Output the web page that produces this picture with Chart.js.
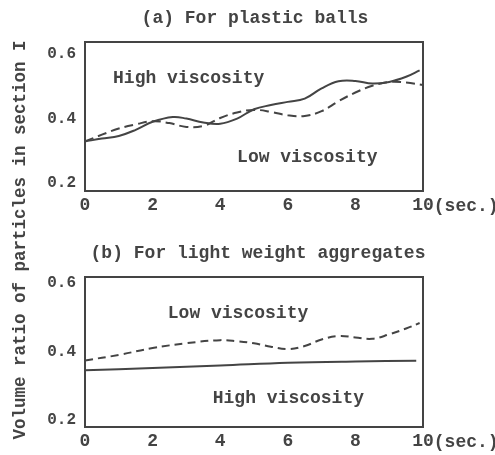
<!DOCTYPE html>
<html>
<head>
<meta charset="utf-8">
<script src="https://cdn.jsdelivr.net/npm/chart.js@4.4.0/dist/chart.umd.min.js"></script>
<style>
  body { margin: 0; background: #fff; width: 495px; height: 455px; position: relative; overflow: hidden; }
  canvas { position: absolute; left: 0; }
  #c1 { top: 0; }
  #c2 { top: 235px; }
  #ylab {
    position: absolute; left: 20px; top: 240px; width: 420px; margin-left: -210px;
    text-align: center; font: bold 17.5px "Liberation Mono", monospace; color: #444;
    transform: rotate(-90deg); transform-origin: 50% 50%; line-height: 20px; margin-top: -10px;
    white-space: nowrap;
  }
</style>
</head>
<body>
<canvas id="c1" width="495" height="235"></canvas>
<canvas id="c2" width="495" height="235"></canvas>
<div id="ylab">Volume ratio of particles in section I</div>
<script>
// (a) plastic balls
const timeA = [0, 0.5, 1, 1.5, 2, 2.6, 3, 3.5, 4, 4.5, 5, 5.5, 6, 6.5, 7, 7.5, 8, 8.5, 9, 9.5, 9.9];
const highA = [0.329, 0.338, 0.346, 0.365, 0.39, 0.405, 0.4, 0.388, 0.384, 0.4, 0.429, 0.442, 0.452, 0.462, 0.494, 0.516, 0.517, 0.509, 0.514, 0.53, 0.55];
const timeA2 = [0, 0.5, 1, 1.5, 2, 2.5, 3, 3.5, 4, 4.5, 5, 5.5, 6, 6.5, 7, 7.5, 8, 8.5, 9, 9.5, 10];
const lowA = [0.329, 0.35, 0.369, 0.382, 0.392, 0.386, 0.374, 0.377, 0.402, 0.419, 0.427, 0.421, 0.41, 0.408, 0.423, 0.454, 0.481, 0.502, 0.514, 0.512, 0.504];

// (b) light weight aggregates
const timeB = [0, 1, 2, 3, 4, 4.5, 5, 5.5, 6, 6.5, 7, 7.5, 8, 8.5, 9, 9.5, 9.9];
const lowB = [0.374, 0.39, 0.41, 0.424, 0.433, 0.43, 0.424, 0.414, 0.407, 0.416, 0.435, 0.445, 0.441, 0.437, 0.45, 0.467, 0.483];
const timeB2 = [0, 2, 4, 6, 8, 9.8];
const highB = [0.345, 0.352, 0.359, 0.367, 0.371, 0.373];

const xTicks = [0, 2, 4, 6, 8, 10];
const yTicks = [0.2, 0.4, 0.6];

const ink = '#444';
const mono = '"Liberation Mono", monospace';

function pts(xs, ys) { return xs.map((x, i) => ({ x: x, y: ys[i] })); }

function makeChart(id, title, titleX, series, yMin, yMax, notes, padBottom) {
  const textPlugin = {
    id: 'texts' + id,
    afterDraw(chart) {
      const { ctx, chartArea, scales } = chart;
      ctx.save();
      // frame round the plot
      ctx.strokeStyle = ink;
      ctx.lineWidth = 2;
      ctx.strokeRect(chartArea.left, chartArea.top, chartArea.right - chartArea.left, chartArea.bottom - chartArea.top);
      ctx.fillStyle = ink;
      ctx.font = 'bold 18px ' + mono;
      ctx.textBaseline = 'middle';
      ctx.textAlign = 'center';
      ctx.fillText(title, titleX, 18);
      ctx.textAlign = 'left';
      notes.forEach(n => {
        ctx.fillText(n.text, scales.x.getPixelForValue(n.x), scales.y.getPixelForValue(n.y));
      });
      // unit after the last tick
      const x10 = scales.x.getPixelForValue(10);
      const w10 = ctx.measureText('10').width;
      ctx.fillText('(sec.)', x10 + w10 / 2, chartArea.bottom + 15);
      ctx.restore();
    }
  };

  return new Chart(document.getElementById(id), {
    type: 'line',
    data: {
      datasets: series.map(s => ({
        data: s.data,
        borderColor: ink,
        borderWidth: 2,
        borderDash: s.dash,
        pointRadius: 0,
        tension: 0.4,
        fill: false
      }))
    },
    options: {
      responsive: false,
      animation: false,
      layout: { padding: { top: 42, left: 0, right: 72, bottom: padBottom } },
      plugins: { legend: { display: false }, tooltip: { enabled: false } },
      scales: {
        x: {
          type: 'linear', min: 0, max: 10,
          grid: { display: false, drawTicks: false }, border: { display: false },
          afterBuildTicks: s => { s.ticks = xTicks.map(v => ({ value: v })); },
          afterFit: s => { s.height = 40; },
          ticks: { color: ink, padding: 4, maxRotation: 0, font: { family: mono, size: 18, weight: 'bold' } }
        },
        y: {
          min: yMin, max: yMax,
          grid: { display: false, drawTicks: false }, border: { display: false },
          afterBuildTicks: s => { s.ticks = yTicks.map(v => ({ value: v })); },
          afterFit: s => { s.width = 85; },
          ticks: { color: ink, padding: 9, font: { family: mono, size: 16, weight: 'bold' }, callback: v => v.toFixed(1) }
        }
      }
    },
    plugins: [textPlugin]
  });
}

makeChart('c1', '(a) For plastic balls', 255, [
  { data: pts(timeA, highA), dash: [] },
  { data: pts(timeA2, lowA), dash: [9, 5] }
], 0.175, 0.638, [
  { text: 'High viscosity', x: 0.83, y: 0.525 },
  { text: 'Low viscosity', x: 4.5, y: 0.28 }
], 4);

makeChart('c2', '(b) For light weight aggregates', 258, [
  { data: pts(timeB, lowB), dash: [8, 5] },
  { data: pts(timeB2, highB), dash: [] }
], 0.18, 0.617, [
  { text: 'Low viscosity', x: 2.45, y: 0.51 },
  { text: 'High viscosity', x: 3.78, y: 0.263 }
], 3);
</script>
</body>
</html>
